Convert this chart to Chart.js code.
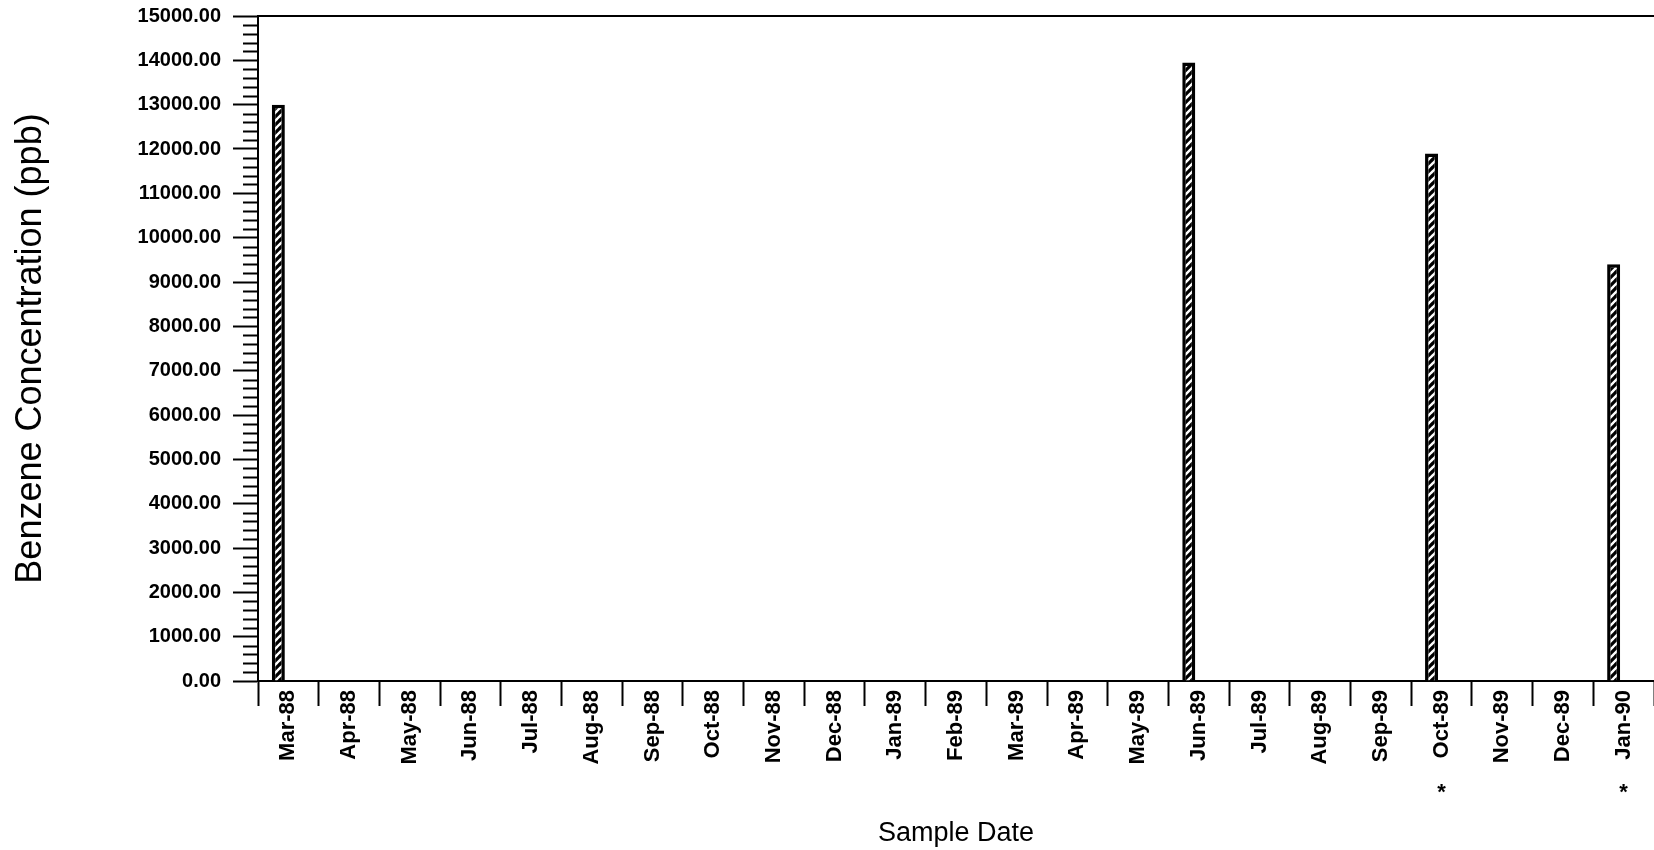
<!DOCTYPE html>
<html lang="en">
<head>
    <meta charset="UTF-8">
    <title>Benzene Concentration</title>
    <script src="https://cdn.jsdelivr.net/npm/chart.js"></script>
    <style>
        body {
            margin: 0;
            background: #ffffff;
        }
        #wrap {
            width: 1654px;
            height: 850px;
        }
    </style>
</head>
<body>
    <div id="wrap">
        <canvas id="benzeneChart" width="1654" height="850"></canvas>
    </div>

    <script>
        // sample months
        const sampleDates = [
            'Mar-88', 'Apr-88', 'May-88', 'Jun-88', 'Jul-88', 'Aug-88', 'Sep-88', 'Oct-88',
            'Nov-88', 'Dec-88', 'Jan-89', 'Feb-89', 'Mar-89', 'Apr-89', 'May-89', 'Jun-89',
            'Jul-89', 'Aug-89', 'Sep-89', 'Oct-89', 'Nov-89', 'Dec-89', 'Jan-90'
        ];

        // benzene (ppb), null where no sample was taken
        const benzene = [
            13000, null, null, null, null, null, null, null,
            null, null, null, null, null, null, null, 13950,
            null, null, null, 11900, null, null, 9400
        ];

        // second series slot, no results in it
        const blankSeries = [];

        // footnote marks under the month labels
        const footnotes = [
            '', '', '', '', '', '', '', '',
            '', '', '', '', '', '', '', '',
            '', '', '', '*', '', '', '*'
        ];

        const yMin = 0;
        const yMax = 15000;
        const yMajorStep = 1000;
        const yMinorStep = 200;

        const fontFamily = "'Liberation Sans', Arial, Helvetica, sans-serif";

        // diagonal hatch fill for the bars
        function makeHatch() {
            const c = document.createElement('canvas');
            c.width = 8;
            c.height = 8;
            const g = c.getContext('2d');
            g.fillStyle = '#ffffff';
            g.fillRect(0, 0, 8, 8);
            g.strokeStyle = '#000000';
            g.lineWidth = 3.2;
            g.beginPath();
            g.moveTo(-1, 9); g.lineTo(9, -1);
            g.moveTo(-1, 1); g.lineTo(1, -1);
            g.moveTo(7, 9); g.lineTo(9, 7);
            g.stroke();
            return g.createPattern(c, 'repeat');
        }

        // frame line along the top, minor ticks on the value axis, footnote marks
        const extras = {
            id: 'extras',
            afterDraw(chart) {
                const ctx = chart.ctx;
                const area = chart.chartArea;
                const y = chart.scales.y;
                const x = chart.scales.x;
                ctx.save();
                ctx.strokeStyle = '#000';
                ctx.lineWidth = 2;
                ctx.beginPath();
                ctx.moveTo(area.left, area.top);
                ctx.lineTo(area.right, area.top);
                ctx.stroke();

                ctx.lineWidth = 2;
                ctx.beginPath();
                for (let v = yMin; v <= yMax; v += yMinorStep) {
                    if (v % yMajorStep === 0) continue;
                    const py = Math.round(y.getPixelForValue(v)) + 0.5;
                    ctx.moveTo(area.left - 15, py);
                    ctx.lineTo(area.left, py);
                }
                ctx.stroke();

                ctx.fillStyle = '#000';
                ctx.font = 'bold 22px ' + fontFamily;
                ctx.textAlign = 'center';
                ctx.textBaseline = 'middle';
                footnotes.forEach((mark, i) => {
                    if (mark) {
                        ctx.fillText(mark, x.getPixelForValue(i), area.bottom + 112);
                    }
                });
                ctx.restore();
            }
        };

        const ctx = document.getElementById('benzeneChart').getContext('2d');
        const chart = new Chart(ctx, {
            type: 'bar',
            data: {
                labels: sampleDates,
                datasets: [{
                    label: 'Benzene',
                    data: benzene,
                    backgroundColor: makeHatch(),
                    borderColor: '#000000',
                    borderWidth: 3.5,
                    categoryPercentage: 0.66,
                    barPercentage: 0.65
                }, {
                    label: 'Blank',
                    data: blankSeries,
                    backgroundColor: '#ffffff',
                    categoryPercentage: 0.66,
                    barPercentage: 0.65
                }]
            },
            options: {
                responsive: false,
                animation: false,
                layout: {
                    padding: { top: 16, right: 0, bottom: 0, left: 0 }
                },
                plugins: {
                    legend: { display: false },
                    tooltip: { enabled: false }
                },
                scales: {
                    x: {
                        grid: {
                            offset: true,
                            drawOnChartArea: false,
                            drawTicks: true,
                            tickLength: 25,
                            tickWidth: 2,
                            tickColor: '#000'
                        },
                        border: { display: true, color: '#000', width: 2 },
                        ticks: {
                            color: '#000',
                            font: { family: fontFamily, size: 22, weight: 'bold' },
                            minRotation: 90,
                            maxRotation: 90,
                            autoSkip: false,
                            padding: -16
                        },
                        title: {
                            display: true,
                            text: 'Sample Date',
                            color: '#000',
                            font: { family: fontFamily, size: 27, lineHeight: 1.2 },
                            padding: { top: 0, bottom: 0 }
                        },
                        afterFit(scale) {
                            scale.height = 169;
                            scale.paddingLeft = 0;
                            scale.paddingRight = 0;
                        }
                    },
                    y: {
                        min: yMin,
                        max: yMax,
                        grid: {
                            drawOnChartArea: false,
                            drawTicks: true,
                            tickLength: 25,
                            tickWidth: 2,
                            tickColor: '#000'
                        },
                        border: { display: true, color: '#000', width: 2 },
                        ticks: {
                            stepSize: yMajorStep,
                            color: '#000',
                            font: { family: fontFamily, size: 20, weight: 'bold' },
                            padding: 12,
                            callback: v => v.toFixed(2)
                        },
                        title: {
                            display: true,
                            text: 'Benzene Concentration (ppb)',
                            color: '#000',
                            font: { family: fontFamily, size: 36, lineHeight: 1.2 },
                            padding: { top: 9, bottom: 0 }
                        },
                        afterFit(scale) {
                            scale.width = 258;
                            scale.paddingTop = 0;
                            scale.paddingBottom = 0;
                        }
                    }
                }
            },
            plugins: [extras]
        });
    </script>
</body>
</html>
